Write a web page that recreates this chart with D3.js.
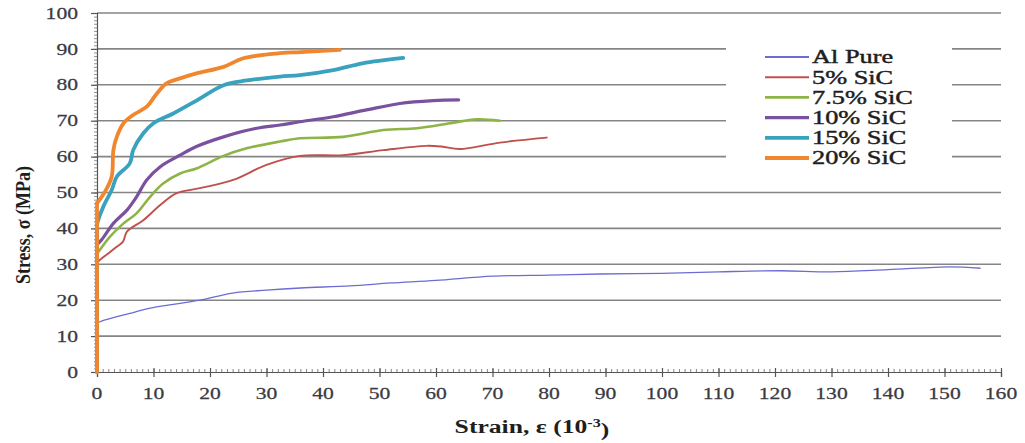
<!DOCTYPE html>
<html>
<head>
<meta charset="utf-8">
<script src="https://cdn.jsdelivr.net/npm/d3@7"></script>
<style>
  html, body { margin: 0; padding: 0; background: #fff; }
  svg { display: block; }
</style>
</head>
<body>
<svg id="chart" width="1025" height="443"></svg>
<script>
// Stress–strain curves of Al / SiC composites
const seriesNames = ["Al Pure", "5% SiC", "7.5% SiC", "10% SiC", "15% SiC", "20% SiC"];
const seriesColors = ["#6c6cd4", "#c0504d", "#8db446", "#7a519f", "#38a2bf", "#f0862e"];
const seriesWidths = [1.3, 1.9, 2.6, 3.2, 3.8, 3.8];

const strainAl = [0, 0, 0.5, 3.5, 6.7, 9.4, 13.8, 18.2, 24, 30, 36, 44.8, 52, 60, 70, 80, 89, 100, 110, 121, 130, 140, 151, 156.3];
const stressAl = [0, 13.5, 14, 15.4, 16.7, 17.8, 18.9, 20, 22, 22.8, 23.4, 24, 24.8, 25.5, 26.7, 27, 27.3, 27.5, 27.9, 28.2, 27.9, 28.5, 29.3, 28.9];

const strain5 = [0, 0, 0.5, 3.5, 4.6, 5.3, 8.2, 11.2, 14.1, 18.2, 24.1, 30, 35.9, 43.6, 50.7, 58.3, 61, 64.2, 71.3, 79.6];
const stress5 = [0, 30.5, 31.2, 34.9, 36.3, 39.1, 42.3, 46.5, 49.8, 51.2, 53.5, 57.7, 60.2, 60.4, 61.8, 63, 62.8, 62.1, 63.9, 65.3];

const strain75 = [0, 0, 0.5, 2.3, 4.7, 7, 9.4, 11.7, 14.7, 17.6, 22.4, 26.5, 32.4, 35.9, 43.6, 50.7, 56.6, 62.5, 67.2, 71.3];
const stress75 = [0, 33, 34, 37.7, 41.4, 44.2, 48.8, 52.5, 55.3, 56.7, 60.2, 62.3, 64.2, 65.1, 65.5, 67.4, 67.9, 69.3, 70.4, 70];

const strain10 = [0, 0, 0.8, 2.9, 5.3, 7, 8.8, 11.2, 14.7, 17.6, 22.4, 28.3, 32.4, 35.9, 41.8, 47.7, 53.6, 59.5, 64];
const stress10 = [0, 35.5, 36.8, 41.4, 45.1, 48.8, 53.5, 57.2, 60.4, 62.8, 65.5, 67.9, 68.8, 69.7, 71.1, 73, 74.8, 75.6, 75.8];

const strain15 = [0, 0, 0.2, 1.1, 2.6, 3.5, 5.8, 6.4, 8.2, 10, 13.5, 17.6, 22.4, 26.5, 32.4, 35.9, 41.8, 47, 54.2];
const stress15 = [0, 41, 42.3, 46, 50.7, 54.4, 58.1, 61.8, 66.5, 69.3, 72, 75.6, 79.9, 81.2, 82.3, 82.7, 84.1, 86, 87.5];

const strain20 = [0, 0, 1.4, 2.6, 2.9, 3.5, 4.7, 6.4, 8.8, 10.6, 12.3, 14.7, 17.6, 22.4, 25.9, 32.4, 36, 43];
const stress20 = [0, 47, 50.2, 54.4, 61.8, 65.5, 69.3, 71.6, 73.9, 77.6, 80.4, 81.8, 83.2, 85, 87.4, 88.8, 89.1, 89.7];

const xTicks = d3.range(0, 161, 10);
const yTicks = d3.range(0, 101, 10);

const strains = [strainAl, strain5, strain75, strain10, strain15, strain20];
const stresses = [stressAl, stress5, stress75, stress10, stress15, stress20];

const series = seriesNames.map((name, i) => ({
  name,
  color: seriesColors[i],
  width: seriesWidths[i],
  points: strains[i].map((s, j) => [s, stresses[i][j]])
}));

// Text in this figure is drawn horizontally widened
const SX = 1.35;

const svg = d3.select("#chart");
const x = d3.scaleLinear().domain([0, 160]).range([97, 1001]);
const y = d3.scaleLinear().domain([0, 100]).range([372, 13]);

const tickFont = "'Liberation Serif', 'Times New Roman', serif";
const tickColor = "#3a3a44";

// horizontal gridlines
svg.append("g")
  .selectAll("line")
  .data(yTicks.filter(d => d > 0))
  .join("line")
  .attr("x1", x(0)).attr("x2", x(160))
  .attr("y1", d => y(d)).attr("y2", d => y(d))
  .attr("stroke", "#858585")
  .attr("stroke-width", 1.6);

// y axis with minor ticks
const yAxisG = svg.append("g").attr("transform", `translate(${x(0)},0)`);
yAxisG.call(d3.axisLeft(y).tickValues(d3.range(0, 100, 1)).tickSize(3).tickFormat(""))
  .call(g => g.select(".domain").remove())
  .call(g => g.selectAll("line").attr("stroke", "#777").attr("stroke-width", 0.8));
yAxisG.append("g")
  .call(d3.axisLeft(y).tickValues(yTicks).tickSize(6).tickFormat(""))
  .call(g => g.select(".domain").attr("stroke", "#555").attr("stroke-width", 1.2))
  .call(g => g.selectAll("line").attr("stroke", "#555").attr("stroke-width", 1.2));

// y tick labels
svg.append("g")
  .selectAll("g")
  .data(yTicks)
  .join("g")
  .attr("transform", d => `translate(78,${y(d)}) scale(${SX},1)`)
  .append("text")
  .attr("text-anchor", "end")
  .attr("dy", "0.35em")
  .attr("font-family", tickFont)
  .attr("font-size", 16)
  .attr("fill", tickColor)
  .attr("stroke", tickColor)
  .attr("stroke-width", 0.25)
  .text(d => d);

// x axis: minor ticks point up, major ticks point down
const xAxisG = svg.append("g").attr("transform", `translate(0,${y(0)})`);
xAxisG.call(d3.axisTop(x).tickValues(d3.range(1, 161, 1)).tickSize(3).tickFormat(""))
  .call(g => g.select(".domain").remove())
  .call(g => g.selectAll("line").attr("stroke", "#666").attr("stroke-width", 0.8));
xAxisG.append("g")
  .call(d3.axisBottom(x).tickValues(xTicks).tickSize(5).tickFormat(""))
  .call(g => g.select(".domain").attr("stroke", "#555").attr("stroke-width", 1.2))
  .call(g => g.selectAll("line").attr("stroke", "#555").attr("stroke-width", 1.2).attr("y1", -4));

svg.append("g")
  .selectAll("g")
  .data(xTicks)
  .join("g")
  .attr("transform", d => `translate(${x(d)},393) scale(${SX},1)`)
  .append("text")
  .attr("text-anchor", "middle")
  .attr("dy", "0.35em")
  .attr("font-family", tickFont)
  .attr("font-size", 16)
  .attr("fill", tickColor)
  .attr("stroke", tickColor)
  .attr("stroke-width", 0.25)
  .text(d => d);

// curves: straight elastic rise at zero strain, smooth plastic part after it
const elastic = d3.line()
  .x(d => x(d[0]))
  .y(d => y(d[1]));
const plastic = d3.line()
  .x(d => x(d[0]))
  .y(d => y(d[1]))
  .curve(d3.curveCatmullRom.alpha(0.5));

const curves = svg.append("g")
  .selectAll("g")
  .data(series)
  .join("g")
  .attr("fill", "none")
  .attr("stroke", d => d.color)
  .attr("stroke-width", d => d.width)
  .attr("stroke-linejoin", "round")
  .attr("stroke-linecap", "round");
curves.append("path").attr("d", d => elastic(d.points.slice(0, 2)));
curves.append("path").attr("d", d => plastic(d.points.slice(1)));

// legend
const legend = svg.append("g");
legend.append("rect")
  .attr("x", 726).attr("y", 42).attr("width", 226).attr("height", 128)
  .attr("fill", "#fff");
const legendY0 = 57, legendStep = 20.2;
const items = legend.selectAll("g.item")
  .data(series)
  .join("g")
  .attr("class", "item")
  .attr("transform", (d, i) => `translate(0,${legendY0 + i * legendStep})`);
items.append("line")
  .attr("x1", 765).attr("x2", 809)
  .attr("stroke", d => d.color)
  .attr("stroke-width", d => Math.max(d.width, 1.8));
items.append("g")
  .attr("transform", `translate(812,0) scale(${SX},1)`)
  .append("text")
  .attr("dy", "0.33em")
  .attr("font-family", tickFont)
  .attr("font-size", 19.5)
  .attr("fill", "#1e1e1e")
  .attr("stroke", "#1e1e1e")
  .attr("stroke-width", 0.45)
  .text(d => d.name);

// axis titles
svg.append("g")
  .attr("transform", `translate(532,426) scale(${SX},1)`)
  .append("text")
  .attr("text-anchor", "middle")
  .attr("dy", "0.35em")
  .attr("font-family", tickFont)
  .attr("font-weight", "bold")
  .attr("font-size", 19)
  .attr("fill", "#1e1e1e")
  .call(t => {
    t.append("tspan").text("Strain, ε (10");
    t.append("tspan").attr("dy", "-0.45em").attr("font-size", 12).text("-3");
    t.append("tspan").attr("dy", "0.45em").text(")");
  });

svg.append("g")
  .attr("transform", `translate(22,225) rotate(-90) scale(0.95,1.15)`)
  .append("text")
  .attr("text-anchor", "middle")
  .attr("dy", "0.35em")
  .attr("font-family", tickFont)
  .attr("font-weight", "bold")
  .attr("font-size", 19)
  .attr("fill", "#1e1e1e")
  .text("Stress, σ (MPa)");
</script>
</body>
</html>
